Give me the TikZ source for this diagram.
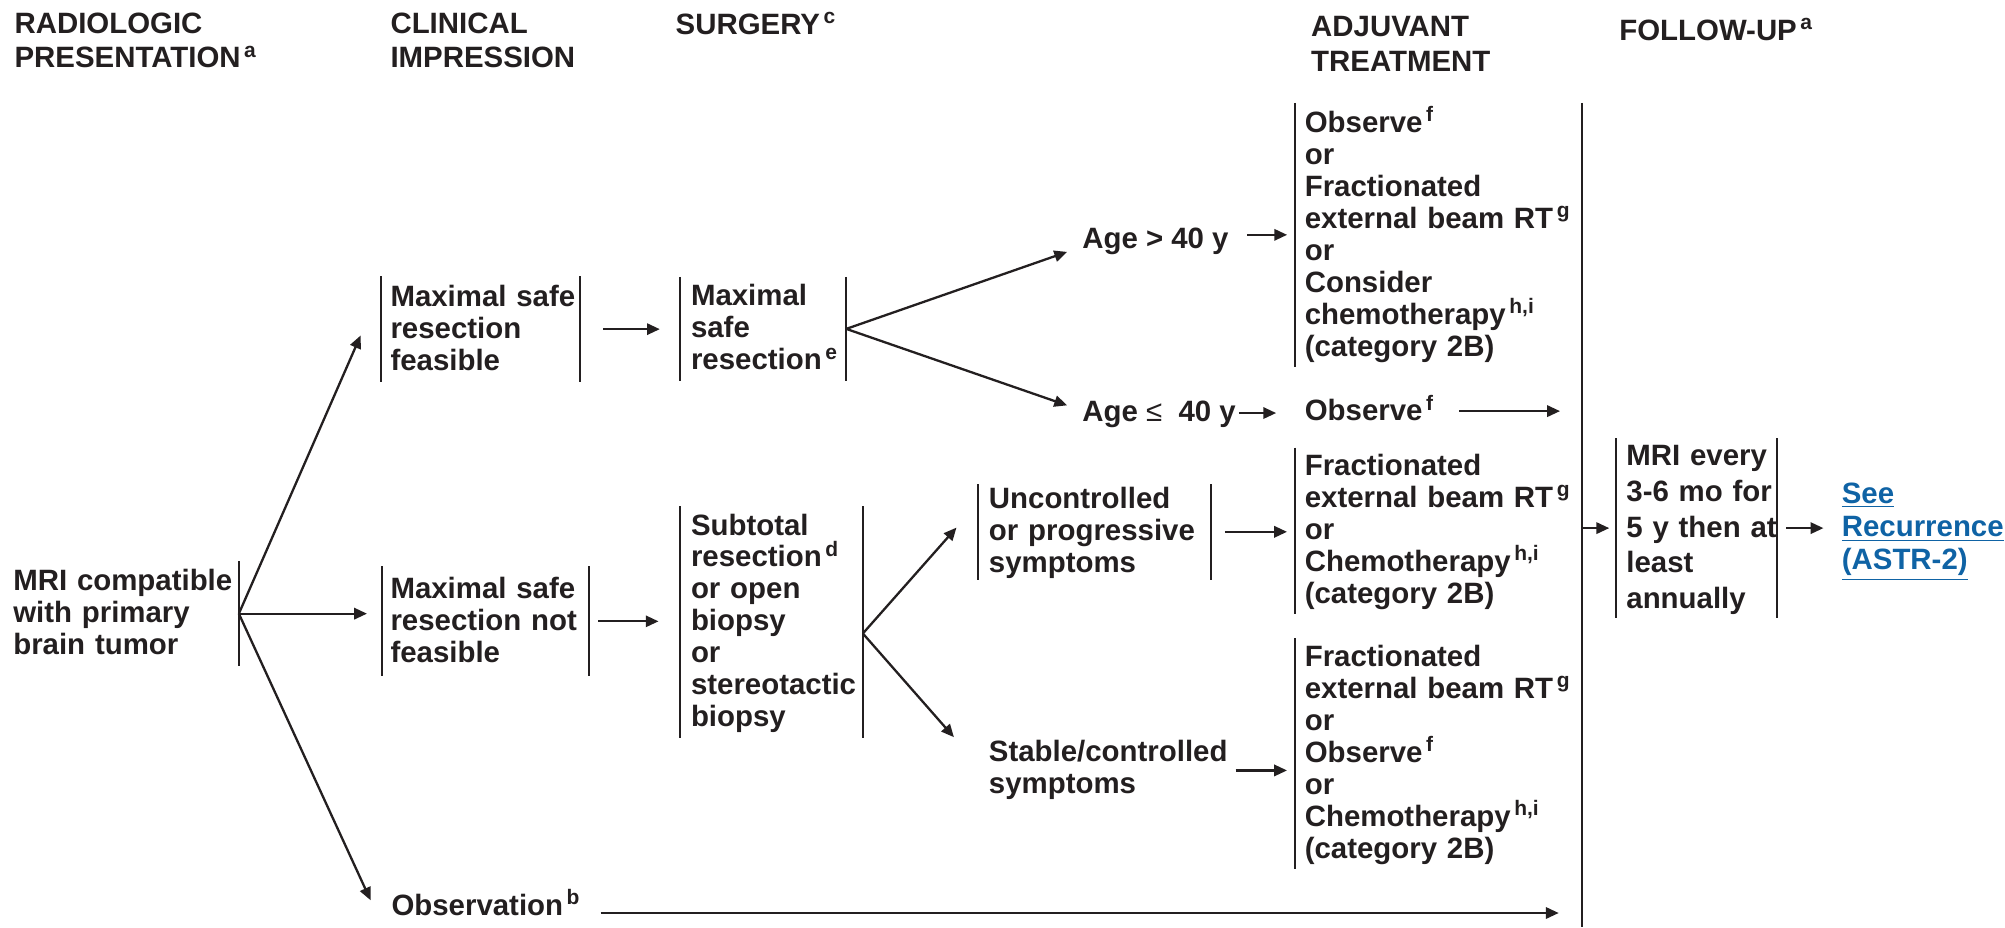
\documentclass[tikz,border=0pt]{standalone}
\usepackage{fontspec}
\setmainfont{Liberation Sans}
\usetikzlibrary{arrows.meta}
\definecolor{ink}{HTML}{231F20}
\definecolor{linkblue}{HTML}{0F63A5}
\newcommand\fnm[1]{\kern1.4pt\raisebox{4.2pt}{\fontsize{8.2}{8.2}\selectfont #1}}
\newcommand\bodyfont{\fontsize{11.5}{12.5}\selectfont\bfseries\lineskiplimit=-20pt\relax\hyphenpenalty=10000\relax\exhyphenpenalty=10000\relax}
\newcommand\hdrfont{\fontsize{11.5}{13.5}\selectfont\bfseries\lineskiplimit=-20pt\relax}
\newcommand\fufont{\fontsize{11.5}{14}\selectfont\bfseries\lineskiplimit=-20pt\relax\hyphenpenalty=10000\relax\exhyphenpenalty=10000\relax}
\newcommand\seefont{\fontsize{11.5}{13}\selectfont\bfseries\lineskiplimit=-20pt\relax}
\begin{document}
\begin{tikzpicture}[x=0.5pt,y=-0.5pt, color=ink,
  txt/.style={font=\bodyfont, align=left, inner ysep=0pt, text=ink,
    execute at begin node={\rule{0pt}{9.5pt}},
    execute at end node={\rule[-2.5pt]{0pt}{2.5pt}}},
  plain/.style={txt, inner xsep=0pt, anchor=west},
  hdr/.style={plain, font=\hdrfont},
  box/.style={txt, anchor=north west},
  bar/.style={line width=0.7pt},
  arr/.style={-{Triangle[length=5pt,width=4.4pt]}, line width=0.9pt},
]
\useasboundingbox (0,0) rectangle (1568,725);

% headers
\node[hdr] (h1) at (11,34) {RADIOLOGIC\\PRESENTATION\fnm{a}};
\node[hdr] (h2) at (305,34) {CLINICAL\\IMPRESSION};
\node[hdr] (h3) at (528,20) {SURGERY\fnm{c}};
\node[hdr] (h4) at (1025,37) {ADJUVANT\\TREATMENT};
\node[hdr] (h5) at (1266,24.8) {FOLLOW-UP\fnm{a}};

% boxed nodes
\node[box, minimum height=40.5pt, text width=84.5pt, inner xsep=3.5pt] (mri) at (3,439) {MRI~compatible\\with~primary\\brain~tumor};
\node[box, minimum height=41pt, text width=70.5pt, inner xsep=3.5pt] (feas) at (298,216) {Maximal~safe\\resection\\feasible};
\node[box, minimum height=42.5pt, text width=74.5pt, inner xsep=3pt] (nfeas) at (299,443) {Maximal~safe\\resection~not\\feasible};
\node[box, minimum height=40.2pt, text width=56.5pt, inner xsep=4pt] (surg) at (532,216.6) {Maximal\\safe\\resection\fnm{e}};
\node[box, minimum height=90pt, text width=63pt, inner xsep=4pt] (sub) at (532,396) {Subtotal\\resection\fnm{d}\\or~open\\biopsy\\or\\stereotactic\\biopsy};
\node[box, minimum height=36.75pt, text width=82.5pt, inner xsep=4pt] (unc) at (765,378.5) {Uncontrolled\\or~progressive\\symptoms};
\node[box, minimum height=102.75pt, text width=110pt, inner xsep=3.5pt] (adj1) at (1013,80.5) {Observe\fnm{f}\\or\\Fractionated\\external~beam~RT\fnm{g}\\or\\Consider\\chemotherapy\fnm{h,i}\\(category~2B)};
\node[box, minimum height=64.5pt, text width=110pt, inner xsep=3.5pt] (adj2) at (1013,350) {Fractionated\\external~beam~RT\fnm{g}\\or\\Chemotherapy\fnm{h,i}\\(category~2B)};
\node[box, minimum height=90pt, text width=110pt, inner xsep=3.5pt] (adj3) at (1013,499) {Fractionated\\external~beam~RT\fnm{g}\\or\\Observe\fnm{f}\\or\\Chemotherapy\fnm{h,i}\\(category~2B)};
\node[box, font=\fufont, minimum height=69.9pt, text width=54.8pt, inner xsep=3.75pt] (fu) at (1264,342.7) {MRI~every\\3-6~mo~for\\5~y~then~at\\least\\annually};

% plain text nodes
\node[plain] (age1) at (846,187) {Age > 40 y};
\node[plain] (age2) at (846,323) {Age {\mdseries ≤}\ \ 40 y};
\node[plain] (obs1) at (1020,321.5) {Observe\fnm{f}};
\node[plain] (stab) at (773,602.5) {Stable/controlled\\symptoms};
\node[plain] (obsv) at (305.8,708) {Observation\fnm{b}};
\node[plain, font=\seefont, text=linkblue] (see) at (1440,415.8) {\underline{See}\\\underline{Recurrence}\\\underline{(ASTR-2)}};

% big follow-up line
\coordinate (vtop) at (1237,80.5);
\coordinate (vbot) at (1237,725);
\draw[line width=0.9pt] (vtop) -- (vbot);

% bars
\draw[bar] (mri.north east) -- (mri.south east);
\foreach \n in {feas,nfeas,surg,sub,unc,fu}{
  \draw[bar] (\n.north west) -- (\n.south west) (\n.north east) -- (\n.south east);
}
\foreach \n in {adj1,adj2,adj3}{
  \draw[bar] (\n.north west) -- (\n.south west);
}

% connectors
\draw[arr] (mri.east) -- ([shift={(-8pt,-2.5pt)}]feas.west);
\draw[arr, shorten >=6pt] (mri.east) -- (mri.east -| nfeas.west);
\draw[arr] (mri.east) -- ([shift={(-8pt,2pt)}]obsv.west);
\draw[arr, shorten <=9pt, shorten >=8pt] (feas.east) -- (feas.east -| surg.west);
\draw[arr, shorten <=3.5pt, shorten >=8.5pt] (nfeas.east) -- (nfeas.east -| sub.west);
\draw[arr] (surg.east) -- ([shift={(-5.75pt,-5pt)}]age1.west);
\draw[arr] (surg.east) -- ([shift={(-5.75pt,3pt)}]age2.west);
\draw[arr, shorten <=7pt, shorten >=3.2pt] (age1.east |- adj1.west) -- (adj1.west);
\draw[arr, shorten <=1pt, shorten >=11pt] (age2.east) -- (age2.east -| obs1.west);
\draw[arr, shorten <=10pt, shorten >=8.5pt] (obs1.east) -- (obs1.east -| vtop);
\draw[arr, shorten <=5.5pt, shorten >=3.25pt] (unc.east) -- (unc.east -| adj2.west);
\draw[arr] ([yshift=-4.5pt]sub.east) -- ([shift={(-8.5pt,1.65pt)}]unc.west);
\draw[arr] ([yshift=-4.5pt]sub.east) -- ([shift={(-13.5pt,13pt)}]stab.west);
\draw[arr, shorten <=3pt, shorten >=3.25pt] (stab.east) -- (stab.east -| adj3.west);
\draw[arr, shorten <=8pt, shorten >=9pt] ([yshift=-3pt]obsv.east) -- ([yshift=-3pt]obsv.east -| vtop);
\draw[arr, shorten >=2.75pt] (fu.west -| vtop) -- (fu.west);
\draw[arr, shorten <=3.7pt, shorten >=7pt] (fu.east) -- (fu.east -| see.west);
\end{tikzpicture}
\end{document}
